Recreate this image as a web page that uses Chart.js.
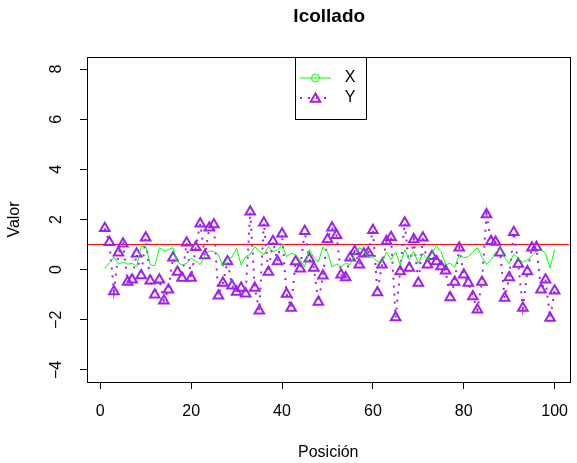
<!DOCTYPE html>
<html lang="es">
<head>
  <meta charset="UTF-8" />
  <title>Icollado</title>
  <style>
    body {
      margin: 0;
      background-color: #ffffff;
    }
    #wrap {
      width: 577px;
      height: 463px;
    }
  </style>
</head>
<body>
  <div id="wrap">
    <canvas id="chart" width="577" height="463"></canvas>
  </div>

  <script src="https://cdn.jsdelivr.net/npm/chart.js"></script>
  <script>
    // datos
    const posiciones = Array.from({ length: 100 }, (_, i) => i + 1);

    const serieX = [
      0.05, 0.28, 0.50, 0.22, 0.30, 0.22, 0.25, 0.13, 0.92, 0.95,
      0.19, 0.15, 0.88, 0.75, 0.80, 0.88, 0.30, 0.18, 0.25, 0.45,
      0.35, 0.20, 0.55, 0.75, 0.72, 0.60, 0.12, 0.45, 0.50, 0.85,
      0.19, 0.52, 0.62, 0.92, 0.72, 0.60, 0.92, 0.72, 0.78, 0.99,
      0.52, 0.65, 0.59, 0.39, 0.12, 0.80, 0.50, 0.30, 0.90, 0.70,
      0.10, 0.22, 0.12, 0.25, 0.20, 0.60, 0.88, 0.75, 0.50, 0.50,
      0.32, 0.30, 0.70, 0.40, 0.70, 0.20, 0.79, 0.40, 0.72, 0.25,
      0.65, 0.38, 0.65, 0.95, 0.72, 0.20, 0.25, 0.10, 0.59, 0.47,
      0.52, 0.70, 0.88, 0.50, 0.21, 0.39, 0.69, 0.85, 0.48, 0.25,
      0.62, 0.45, 0.30, 0.40, 0.55, 0.72, 0.79, 0.65, 0.07, 0.80
    ];

    const serieY = [
      1.65, 1.09, -0.87, 0.67, 1.03, -0.49, -0.40, 0.63, -0.23, 1.27,
      -0.44, -1.00, -0.40, -1.24, -0.80, 0.47, -0.09, -0.33, 1.07, -0.33,
      0.89, 1.83, 0.56, 1.67, 1.80, -1.04, -0.53, 0.33, -0.64, -0.89,
      -0.73, -0.96, 2.31, -0.73, -1.64, 1.87, -0.09, 1.13, 0.33, 1.43,
      -0.97, -1.53, 0.33, 0.04, 1.53, 0.43, 0.07, -1.29, -0.24, 1.20,
      1.67, 1.37, -0.20, -0.31, 0.47, 0.73, 0.20, 0.63, 0.67, 1.57,
      -0.91, 0.20, 1.13, 1.29, -1.91, -0.07, 1.87, 0.07, 1.20, -0.53,
      1.27, 0.20, 0.53, 0.33, 0.13, -0.04, -1.11, -0.49, 0.87, -0.20,
      -0.53, -1.07, -1.60, -0.49, 2.20, 1.13, 1.10, 0.67, -1.13, -0.31,
      1.49, 0.23, -1.53, -0.07, 0.87, 0.89, -0.80, -0.40, -1.93, -0.84
    ];

    const referencia = 1;
    const xTicks = [0, 20, 40, 60, 80, 100];
    const yTicks = [-4, -2, 0, 2, 4, 6, 8];
    const xRange = [-2.92, 103.27];
    const yRange = [-4.48, 8.48];

    const VERDE = "#00ff00";
    const MORADO = "#a020f0";
    const ROJO = "#ff0000";
    const FUENTE = '"Liberation Sans", Arial, sans-serif';

    Chart.defaults.font.family = FUENTE;
    Chart.defaults.color = "#000000";

    function signo(v) {
      return v < 0 ? "\u2212" + Math.abs(v) : String(v);
    }

    function triangulo(ctx, x, y, r) {
      ctx.beginPath();
      for (let k = 0; k < 3; k++) {
        const a = k * 2 * Math.PI / 3;
        const px = x + Math.sin(a) * r;
        const py = y - Math.cos(a) * r;
        if (k === 0) ctx.moveTo(px, py); else ctx.lineTo(px, py);
      }
      ctx.closePath();
      ctx.stroke();
    }

    // caja, titulo, etiquetas del eje y y leyenda al estilo R
    const estiloR = {
      id: "estiloR",
      afterDraw(chart) {
        const { ctx, chartArea, scales } = chart;
        const centro = (chartArea.left + chartArea.right) / 2;
        ctx.save();

        ctx.strokeStyle = "#000";
        ctx.lineWidth = 1;
        ctx.strokeRect(Math.round(chartArea.left) + 0.5, Math.round(chartArea.top) + 0.5,
          Math.round(chartArea.right - chartArea.left), Math.round(chartArea.bottom - chartArea.top));

        ctx.fillStyle = "#000";
        ctx.textAlign = "center";
        ctx.textBaseline = "middle";
        ctx.font = "bold 19px " + FUENTE;
        ctx.fillText("Icollado", centro + 1, 17);

        ctx.font = "16px " + FUENTE;
        yTicks.forEach(v => {
          const py = scales.y.getPixelForValue(v);
          ctx.save();
          ctx.translate(chartArea.left - 30, py);
          ctx.rotate(-Math.PI / 2);
          ctx.fillText(signo(v), 0, 0);
          ctx.restore();
        });

        // leyenda
        const w = 71, h = 62;
        const left = Math.round(centro - w / 2 + 2);
        const top = Math.round(chartArea.top);
        ctx.fillStyle = "#fff";
        ctx.fillRect(left, top, w, h);
        ctx.strokeStyle = "#000";
        ctx.strokeRect(left + 0.5, top + 0.5, w, h);

        const fila1 = top + 21, fila2 = top + 41;
        const mx = left + 20.5;

        ctx.strokeStyle = VERDE;
        ctx.lineWidth = 1;
        ctx.beginPath();
        ctx.moveTo(left + 5, fila1);
        ctx.lineTo(left + 36, fila1);
        ctx.stroke();
        ctx.beginPath();
        ctx.arc(mx, fila1, 4, 0, 2 * Math.PI);
        ctx.stroke();

        ctx.strokeStyle = MORADO;
        ctx.lineWidth = 2;
        ctx.setLineDash([2, 6]);
        ctx.beginPath();
        ctx.moveTo(left + 5, fila2);
        ctx.lineTo(left + 36, fila2);
        ctx.stroke();
        ctx.setLineDash([]);
        triangulo(ctx, mx, fila2 + 1, 5.5);

        ctx.fillStyle = "#000";
        ctx.font = "16px " + FUENTE;
        ctx.fillText("X", left + 55, fila1);
        ctx.fillText("Y", left + 55, fila2);

        ctx.restore();
      }
    };

    const ctx = document.getElementById("chart").getContext("2d");

    new Chart(ctx, {
      type: "line",
      data: {
        datasets: [
          {
            label: "X",
            data: posiciones.map((p, i) => ({ x: p, y: serieX[i] })),
            borderColor: VERDE,
            borderWidth: 1,
            pointRadius: 0,
            tension: 0
          },
          {
            label: "Y",
            data: posiciones.map((p, i) => ({ x: p, y: serieY[i] })),
            borderColor: MORADO,
            borderWidth: 2,
            borderDash: [2, 6],
            pointStyle: "triangle",
            pointRadius: 5.5,
            pointBorderWidth: 2,
            pointBorderColor: MORADO,
            pointBackgroundColor: "rgba(0,0,0,0)",
            tension: 0
          },
          {
            label: "referencia",
            data: [{ x: xRange[0], y: referencia }, { x: xRange[1], y: referencia }],
            borderColor: ROJO,
            borderWidth: 1,
            pointRadius: 0
          }
        ]
      },
      options: {
        responsive: false,
        animation: false,
        layout: { padding: { left: 0, right: 3, top: 57, bottom: 0 } },
        plugins: {
          legend: { display: false },
          tooltip: { enabled: false },
          title: { display: false }
        },
        scales: {
          x: {
            type: "linear",
            min: xRange[0],
            max: xRange[1],
            afterBuildTicks: s => { s.ticks = xTicks.map(v => ({ value: v })); },
            afterFit: s => { s.height = 81; s.paddingLeft = 0; s.paddingRight = 0; },
            grid: { display: true, drawOnChartArea: false, drawTicks: true, tickLength: 7, color: "#000" },
            border: { display: true, color: "#000" },
            ticks: { color: "#000", font: { size: 16 }, padding: 13, maxRotation: 0 },
            title: { display: true, text: "Posición", color: "#000", font: { size: 16 }, padding: { top: 0, bottom: 1 } }
          },
          y: {
            type: "linear",
            min: yRange[0],
            max: yRange[1],
            afterBuildTicks: s => { s.ticks = yTicks.map(v => ({ value: v })); },
            afterFit: s => { s.width = 87; s.paddingTop = 0; s.paddingBottom = 0; },
            grid: { display: true, drawOnChartArea: false, drawTicks: true, tickLength: 7, color: "#000" },
            border: { display: true, color: "#000" },
            ticks: { display: false },
            title: { display: true, text: "Valor", color: "#000", font: { size: 16 }, padding: { top: 5, bottom: 0 } }
          }
        }
      },
      plugins: [estiloR]
    });
  </script>
</body>
</html>
